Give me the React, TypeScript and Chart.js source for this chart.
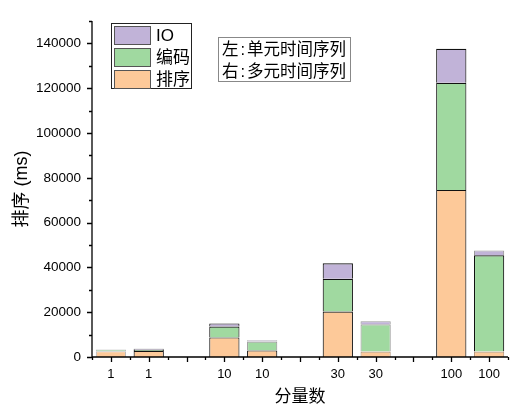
import React, { useEffect, useRef } from "react";
import { Chart, registerables } from "chart.js";

Chart.register(...registerables);

const categories = ["1", "1", "", "10", "10", "", "30", "30", "", "100", "100"];
const sortValues = [2600, 2700, null, 8700, 2900, null, 20300, 2400, null, 74600, 2400];
const encodeValues = [700, 500, null, 4900, 4000, null, 14600, 12200, null, 47800, 43000];
const ioValues = [100, 500, null, 1400, 600, null, 6900, 1400, null, 15200, 2200];
const yMax = 150000;
const yMajorStep = 20000;
const yMinorStep = 10000;

const seriesNames = { sort: "排序", encode: "编码", io: "IO" };
const COLORS = { sort: "#fdc999", encode: "#a0d9a0", io: "#c1b3d8" };
const barBorders = ["#bdbdbd", "#111", "#111", "#111", "#9a9a9a", "#111", "#111", "#9a9a9a", "#111", "#111", "#9a9a9a"];
const sortBorders = ["#bdbdbd", "#111", "#111", "#111", "#111", "#111", "#111", "#b89a80", "#111", "#111", "#b89a80"];
const encodeBorders = ["#bdbdbd", "#111", "#111", "#111", "#9a9a9a", "#111", "#111", "#9a9a9a", "#111", "#111", "#111"];

const FONT = '"Liberation Sans", Arial, "Noto Sans CJK SC", sans-serif';

const axisPlugin = {
  id: "axisTicks",
  afterDraw(chart: any) {
    const { ctx, chartArea, scales } = chart;
    const { left, right, top, bottom } = chartArea;
    const x = scales.x;
    const y = scales.y;
    ctx.save();
    ctx.strokeStyle = "#000";
    ctx.lineWidth = 1.3;
    ctx.beginPath();
    ctx.moveTo(left, top);
    ctx.lineTo(left, bottom);
    ctx.lineTo(right, bottom);
    for (let v = 0; v <= yMax; v += yMinorStep) {
      const py = Math.round(y.getPixelForValue(v)) + 0.5;
      const len = v % yMajorStep === 0 ? 5 : 3;
      ctx.moveTo(left, py);
      ctx.lineTo(left - len, py);
    }
    for (let i = 0; i < categories.length; i++) {
      const px = Math.round(x.getPixelForValue(i)) + 0.5;
      ctx.moveTo(px, bottom);
      ctx.lineTo(px, bottom + 5);
    }
    for (let i = 0; i <= categories.length; i++) {
      const px = Math.round(x.getPixelForValue(i - 0.5)) + 0.5;
      ctx.moveTo(px, bottom);
      ctx.lineTo(px, bottom + 3);
    }
    ctx.stroke();
    ctx.restore();
  },
};

export default function App() {
  const canvasRef = useRef<HTMLCanvasElement | null>(null);

  useEffect(() => {
    if (!canvasRef.current) return;
    const chart = new Chart(canvasRef.current, {
      type: "bar",
      data: {
        labels: categories,
        datasets: [
          {
            label: seriesNames.sort,
            data: sortValues as any,
            backgroundColor: COLORS.sort,
            borderColor: sortBorders,
            borderWidth: 1.1,
            borderSkipped: "start",
          },
          {
            label: seriesNames.encode,
            data: encodeValues as any,
            backgroundColor: COLORS.encode,
            borderColor: encodeBorders,
            borderWidth: 1.1,
            borderSkipped: "start",
          },
          {
            label: seriesNames.io,
            data: ioValues as any,
            backgroundColor: COLORS.io,
            borderColor: barBorders,
            borderWidth: 1.1,
            borderSkipped: "start",
          },
        ],
      },
      options: {
        responsive: false,
        animation: false,
        devicePixelRatio: 1,
        layout: { padding: { top: 21, right: 24, bottom: 0, left: 0 } },
        datasets: {
          bar: { categoryPercentage: 1, barPercentage: 0.8 },
        },
        plugins: {
          legend: { display: false },
          tooltip: { enabled: false },
        },
        scales: {
          x: {
            type: "category",
            stacked: true,
            offset: true,
            grid: { display: false, drawTicks: false },
            border: { display: false },
            ticks: {
              color: "#000",
              padding: 9.5,
              maxRotation: 0,
              autoSkip: false,
              font: { family: FONT, size: 13 },
            },
            title: {
              display: true,
              text: "分量数",
              color: "#000",
              padding: { top: 0, bottom: 8 },
              font: { family: FONT, size: 17 },
            },
            afterFit(scale: any) {
              scale.height = 59;
            },
          },
          y: {
            stacked: true,
            min: 0,
            max: yMax,
            grid: { display: false, drawTicks: false },
            border: { display: false },
            ticks: {
              stepSize: yMinorStep,
              autoSkip: false,
              color: "#000",
              padding: 11,
              font: { family: FONT, size: 13.5 },
              callback: (v: any) => (Number(v) % yMajorStep === 0 && Number(v) < yMax ? String(v) : ""),
            },
            title: {
              display: true,
              text: "排序 (ms)",
              color: "#000",
              padding: { top: 11.5, bottom: 0 },
              font: { family: FONT, size: 18 },
            },
            afterFit(scale: any) {
              scale.width = 92;
            },
          },
        },
      },
      plugins: [axisPlugin],
    } as any);
    return () => chart.destroy();
  }, []);

  const legendItems = [
    { name: seriesNames.io, color: COLORS.io },
    { name: seriesNames.encode, color: COLORS.encode },
    { name: seriesNames.sort, color: COLORS.sort },
  ];

  return (
    <div style={{ position: "absolute", left: 0, top: 0, width: 532, height: 416, background: "#fff", fontFamily: FONT }}>
      <canvas ref={canvasRef} width={532} height={416} style={{ width: 532, height: 416, display: "block" }} />
      <div
        style={{
          position: "absolute",
          left: 111,
          top: 23,
          width: 81,
          height: 66,
          border: "1px solid #222",
          background: "#fff",
          boxSizing: "border-box",
        }}
      >
        {legendItems.map((it, i) => (
          <div key={i} style={{ position: "absolute", left: 2, top: 1.5 + i * 22, height: 20, display: "flex", alignItems: "center" }}>
            <div style={{ width: 37, height: 19, background: it.color, border: "1px solid #555", boxSizing: "border-box" }} />
            <span style={{ marginLeft: 5, fontSize: 17, lineHeight: "20px", color: "#000", whiteSpace: "nowrap" }}>{it.name}</span>
          </div>
        ))}
      </div>
      <div
        style={{
          position: "absolute",
          left: 218,
          top: 37,
          width: 133,
          height: 45,
          border: "1px solid #888",
          background: "#fff",
          boxSizing: "border-box",
          padding: "0 0 0 3px",
          fontSize: 16.5,
          lineHeight: "22px",
          color: "#000",
          whiteSpace: "nowrap",
        }}
      >
        <div>左<span style={{ margin: "0 2px" }}>:</span>单元时间序列</div>
        <div>右<span style={{ margin: "0 2px" }}>:</span>多元时间序列</div>
      </div>
    </div>
  );
}
